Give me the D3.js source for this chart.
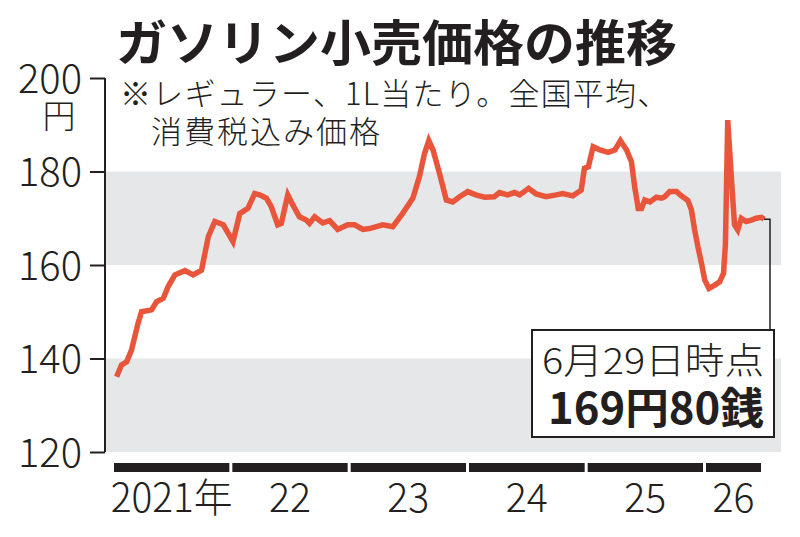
<!DOCTYPE html>
<html>
<head>
<meta charset="utf-8">
<script src="https://cdn.jsdelivr.net/npm/d3@7"></script>
<style>
  html, body { margin: 0; padding: 0; background: #fff; }
  svg { display: block; }
  text { font-family: "Noto Sans CJK JP", "Noto Sans", sans-serif; fill: #231f20; }
</style>
</head>
<body>
<svg id="chart" width="800" height="537"></svg>
<script>
// weekly retail price, regular gasoline (yen / litre)
const dates = [
  "2021-01-09","2021-01-24","2021-02-09","2021-02-24","2021-03-16","2021-03-27","2021-04-27","2021-05-12","2021-06-02","2021-06-17","2021-07-08","2021-08-08","2021-09-02","2021-09-28","2021-10-19","2021-11-08","2021-12-04",
  "2022-01-03","2022-01-24","2022-02-18","2022-03-11","2022-03-26","2022-04-16","2022-05-01","2022-05-21","2022-06-01","2022-06-21","2022-07-07","2022-07-27","2022-08-17","2022-08-27","2022-09-12","2022-10-07","2022-10-28","2022-11-22","2022-12-23",
  "2023-01-13","2023-02-08","2023-02-28","2023-04-10","2023-05-11","2023-06-11","2023-07-12","2023-08-01","2023-08-17","2023-08-30","2023-09-12","2023-10-02","2023-10-23","2023-11-12","2023-12-03","2023-12-28",
  "2024-01-22","2024-02-18","2024-03-19","2024-04-04","2024-04-29","2024-05-20","2024-06-05","2024-07-03","2024-07-26","2024-08-26","2024-09-26","2024-10-16","2024-11-16","2024-12-12","2024-12-22",
  "2025-01-03","2025-01-18","2025-02-08","2025-03-05","2025-03-26","2025-04-12","2025-05-01","2025-05-16","2025-05-26","2025-06-06","2025-06-16","2025-06-26","2025-07-12","2025-08-01","2025-08-17","2025-08-27","2025-09-11","2025-10-02","2025-10-17","2025-11-06","2025-11-17","2025-11-27","2025-12-07","2025-12-18","2025-12-28",
  "2026-01-10","2026-01-28","2026-02-12","2026-02-24","2026-03-02","2026-03-09","2026-03-20","2026-03-30","2026-04-09","2026-04-20","2026-05-05","2026-05-21","2026-06-05","2026-06-21","2026-06-29"
];
const prices = [
  136.1,138.6,139.3,141.8,147.5,150.0,150.4,152.1,152.9,155.4,157.9,158.8,157.9,158.9,166.1,169.3,168.6,
  165.0,171.0,172.1,175.3,175.0,174.3,172.5,168.6,168.9,175.0,172.8,170.3,169.6,168.9,170.3,169.0,169.5,167.6,168.6,
  168.6,167.6,167.8,168.6,168.2,171.1,174.3,178.9,183.9,186.6,184.6,179.6,173.9,173.5,174.6,175.7,
  175.0,174.5,174.6,175.5,175.0,175.5,175.0,176.4,175.2,174.6,175.0,175.3,174.8,176.0,180.7,
  181.0,185.3,184.6,184.1,184.6,186.6,184.6,182.1,176.7,172.1,172.1,173.9,173.5,174.5,174.3,174.6,175.7,175.7,174.8,173.8,171.8,167.5,163.9,160.4,156.8,
  155.0,155.7,156.4,158.2,164.6,191.0,178.9,168.6,167.5,170.0,169.3,169.6,170.0,170.2,169.8
];

const years = [2021, 2022, 2023, 2024, 2025, 2026];
const yearLabels = ["2021年", "22", "23", "24", "25", "26"];
const yTicks = [120, 140, 160, 180, 200];
const bands = [[120, 140], [160, 180]];

const title = "ガソリン小売価格の推移";
const noteLines = ["※レギュラー、1L当たり。全国平均、", "消費税込み価格"];
const calloutDate = "6月29日時点";
const calloutValue = "169円80銭";

const svg = d3.select("#chart");
const parse = d3.timeParse("%Y-%m-%d");
const series = dates.map((d, i) => ({ date: parse(d), v: prices[i] }));
const lastDay = series[series.length - 1].date;

const x = d3.scaleTime()
  .domain([new Date(2021, 0, 1), new Date(2026, 0, 1)])
  .range([114, 706]);
const y = d3.scaleLinear().domain([120, 200]).range([452, 78]);

const axisX = 105;
const plotRight = 781;

// grey bands
svg.append("g").selectAll("rect")
  .data(bands)
  .join("rect")
    .attr("x", axisX)
    .attr("y", d => y(d[1]))
    .attr("width", plotRight - axisX)
    .attr("height", d => y(d[0]) - y(d[1]))
    .attr("fill", "#e6e7e9");

// y axis: ticks point left, line sits right of the labels
const yAxis = d3.axisLeft(y).tickValues(yTicks).tickSize(15).tickPadding(8);
const gy = svg.append("g").attr("transform", `translate(${axisX},0)`).call(yAxis);
gy.select(".domain").attr("d", `M0,${y(200)}V${y(120)}`).attr("stroke", "#231f20").attr("stroke-width", 2);
gy.selectAll(".tick line").attr("stroke", "#231f20").attr("stroke-width", 2);
gy.selectAll(".tick text")
  .attr("font-size", 40)
  .attr("font-family", "'Noto Sans CJK JP', sans-serif")
  .attr("font-weight", 300)
  .attr("fill", "#231f20")
  .attr("dy", "0.36em")
  .attr("textLength", 64)
  .attr("lengthAdjust", "spacingAndGlyphs");

svg.append("text")
  .attr("x", 59).attr("y", 128)
  .attr("text-anchor", "middle")
  .attr("font-size", 33)
  .attr("font-weight", 300)
  .text("円");

// year bars along the bottom
const yearEnd = yr => d3.min([new Date(yr + 1, 0, 1), lastDay]);
svg.append("g").selectAll("rect")
  .data(years)
  .join("rect")
    .attr("x", d => x(new Date(d, 0, 1)))
    .attr("y", 463)
    .attr("width", d => x(yearEnd(d)) - x(new Date(d, 0, 1)) - 3)
    .attr("height", 9)
    .attr("fill", "#231f20");

svg.append("g").selectAll("text")
  .data(years)
  .join("text")
    .attr("x", d => (x(new Date(d, 0, 1)) + x(yearEnd(d)) - 3) / 2)
    .attr("y", 512)
    .attr("text-anchor", "middle")
    .attr("font-size", 40)
    .attr("font-weight", 300)
    .attr("textLength", (d, i) => i === 0 ? 122 : 42)
    .attr("lengthAdjust", "spacingAndGlyphs")
    .text((d, i) => yearLabels[i]);

// price line
const line = d3.line().x(d => x(d.date)).y(d => y(d.v));
svg.append("path")
  .datum(series)
  .attr("d", line)
  .attr("fill", "none")
  .attr("stroke", "#e9553b")
  .attr("stroke-width", 5.5);

// leader + callout box
const last = series[series.length - 1];
const boxX = 532, boxY = 330, boxW = 242, boxH = 107;
svg.append("path")
  .attr("d", `M${x(last.date)},${y(last.v)}H${boxX + boxW - 4}V${boxY}`)
  .attr("fill", "none")
  .attr("stroke", "#231f20")
  .attr("stroke-width", 1.5);

svg.append("rect")
  .attr("x", boxX).attr("y", boxY)
  .attr("width", boxW).attr("height", boxH)
  .attr("fill", "#fff")
  .attr("stroke", "#231f20")
  .attr("stroke-width", 2);

svg.append("text")
  .attr("x", 542).attr("y", 374)
  .attr("font-size", 36)
  .attr("font-weight", 300)
  .attr("textLength", 222)
  .attr("lengthAdjust", "spacingAndGlyphs")
  .text(calloutDate);

svg.append("text")
  .attr("x", 548).attr("y", 424)
  .attr("font-size", 43)
  .attr("font-weight", 700)
  .attr("textLength", 216)
  .attr("lengthAdjust", "spacingAndGlyphs")
  .text(calloutValue);

// title and note
svg.append("text")
  .attr("x", 116).attr("y", 61)
  .attr("font-size", 49)
  .attr("font-weight", 700)
  .attr("textLength", 561)
  .attr("lengthAdjust", "spacingAndGlyphs")
  .text(title);

svg.append("g").selectAll("text")
  .data(noteLines)
  .join("text")
    .attr("x", (d, i) => i === 0 ? 120 : 151)
    .attr("y", (d, i) => 105 + i * 38)
    .attr("font-size", 31)
    .attr("font-weight", 300)
    .attr("letter-spacing", (d, i) => i === 0 ? 1.2 : 2)
    .text(d => d);
</script>
</body>
</html>
